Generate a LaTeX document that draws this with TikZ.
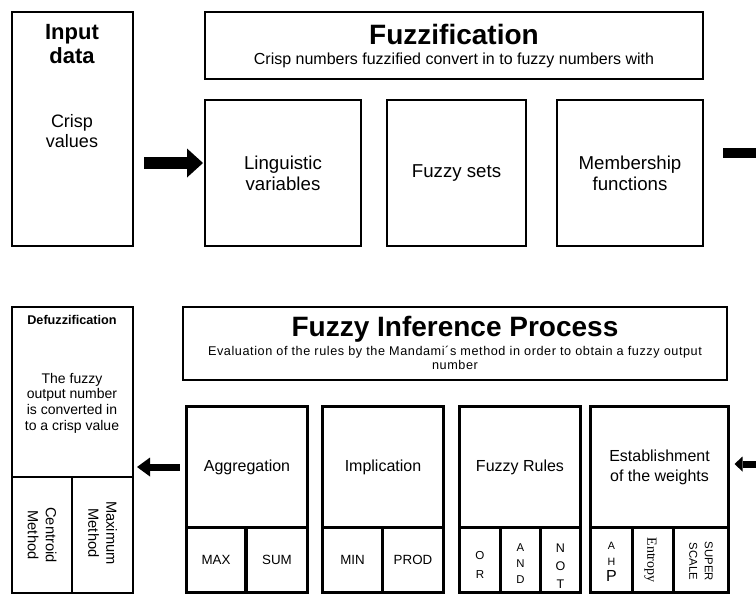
\documentclass[tikz,border=0pt]{standalone}
\usepackage{fontspec}
\setmainfont{Liberation Sans}
\newfontfamily\entropyfont{Liberation Serif}
\usetikzlibrary{arrows.meta, positioning}
\tikzset{
    box/.style={rectangle, draw=black, line width=1.9pt, inner sep=0pt, outer sep=0pt, align=center},
    toplabel/.style={box, minimum height=109.5pt, font=\fontsize{14}{15.75}\selectfont},
    bigbox/.style={box, minimum width=90.75pt, minimum height=90.75pt, font=\fontsize{12}{15}\selectfont},
    subbox/.style={box, minimum height=48.75pt, font=\fontsize{10}{12}\selectfont},
    boxtitle/.style={inner sep=0pt, align=center, font=\fontsize{21}{23}\selectfont\bfseries},
    subtitle/.style={inner sep=0pt, align=center, font=\fontsize{12}{13.5}\selectfont},
    vtext/.style={rotate=-90, inner sep=0pt, align=center},
    letters/.style={inner sep=0pt, align=center},
    fatarrow/.style={draw=black, line width=9pt, -{Triangle[length=12pt, width=21.75pt, line width=0pt]}},
    backarrow/.style={draw=black, line width=5.25pt, -{Triangle[length=9.75pt, width=14.25pt, line width=0pt]}}
}

\begin{document}
\begin{tikzpicture}[x=0.75pt, y=-0.75pt]
    \useasboundingbox (0,0) rectangle (756,594);
    \clip (0,0) rectangle (756,594);

    % Input and fuzzification
    \node [box, minimum width=90.75pt, minimum height=175.5pt] (input) at (72.5,129) {};
    \node [boxtitle, font=\fontsize{16.5}{18}\selectfont\bfseries] (inputtitle) at (72,44) {Input\\data};
    \node [letters, font=\fontsize{13.5}{15}\selectfont] (crisp) at (72,131) {Crisp\\values};
    \node [toplabel, minimum width=117pt] (ling) at (283,173) {Linguistic\\variables};
    \node [toplabel, minimum width=104.25pt, right=19.5pt of ling] (fsets) {Fuzzy sets};
    \node [toplabel, minimum width=109.5pt, right=23.25pt of fsets] (member) {Membership\\functions};
    \node [box, minimum width=373.5pt, minimum height=50.25pt, anchor=south west] (fuzz) at ([yshift=15.75pt]ling.north west) {};
    \node [boxtitle] (fuzztitle) at (454,34) {Fuzzification};
    \node [subtitle] (fuzzsub) at (454,60) {Crisp numbers fuzzified convert in to fuzzy numbers with};

    % Inference process
    \node [box, minimum width=408pt, minimum height=54.75pt] (fip) at (455,343.5) {};
    \node [boxtitle] (fiptitle) at (455,329) {Fuzzy Inference Process};
    \node [subtitle, font=\fontsize{9.5}{10.5}\selectfont\addfontfeature{LetterSpace=4.5}] (fipsub) at (455,358) {Evaluation of the rules by the Mandami´s method in order to obtain a fuzzy output\\number};
    \node [bigbox] (agg) at (247,467) {Aggregation};
    \node [bigbox, right=11.25pt of agg] (impl) {Implication};
    \node [bigbox, right=12pt of impl] (rules) {Fuzzy Rules};
    \node [bigbox, minimum width=103.5pt, right=7.5pt of rules] (weights) {Establishment\\of the weights};

    \node [subbox, minimum width=44.25pt, anchor=north west] (aggmax) at (agg.south west) {MAX};
    \node [subbox, minimum width=45.75pt, anchor=north east] (aggsum) at (agg.south east) {SUM};
    \node [subbox, minimum width=45pt, anchor=north west] (implmin) at (impl.south west) {MIN};
    \node [subbox, minimum width=45.75pt, anchor=north east] (implprod) at (impl.south east) {PROD};
    \node [subbox, minimum width=30.75pt, anchor=north west] (ruleor) at (rules.south west) {};
    \node [subbox, minimum width=30pt, right=0pt of ruleor] (ruleand) {};
    \node [subbox, minimum width=30pt, right=0pt of ruleand] (rulenot) {};
    \node [subbox, minimum width=31.5pt, anchor=north west] (ahp) at (weights.south west) {};
    \node [subbox, minimum width=30.75pt, right=0pt of ahp] (entropy) {};
    \node [subbox, minimum width=41.25pt, right=0pt of entropy] (superscale) {};

    \node [letters, font=\fontsize{8.7}{14}\selectfont] (ortext) at ([yshift=-3.75pt]ruleor) {O\\R};
    \node [letters, font=\fontsize{8.5}{12}\selectfont] (andtext) at ([yshift=-3pt]ruleand) {A\\N\\D};
    \node [letters, font=\fontsize{9.4}{13.5}\selectfont] (nottext) at ([yshift=-4.5pt]rulenot) {N\\O\\T};
    \node [letters, font=\fontsize{8}{12}\selectfont] (ahptext) at ([yshift=-1.5pt]ahp) {A\\H\\{\fontsize{12}{12}\selectfont P}};
    \node [vtext, font=\entropyfont\fontsize{10.5}{12}\selectfont] (entropytext) at ([xshift=-2pt]entropy) {Entropy};
    \node [vtext, font=\fontsize{8.5}{11.5}\selectfont] (supertext) at ([yshift=-1pt]superscale) {SUPER\\SCALE};

    % Defuzzification
    \node [box, minimum width=90.75pt, minimum height=127.5pt] (defuzz) at (72.5,392) {};
    \node [letters, font=\fontsize{9.5}{11}\selectfont\bfseries] (defuzztitle) at (72,320) {Defuzzification};
    \node [letters, font=\fontsize{10.5}{11.8}\selectfont] (defuzztext) at (72,403) {The fuzzy\\output number\\is converted in\\to a crisp value};
    \node [box, minimum width=45pt, minimum height=87pt, anchor=north west] (centroid) at (defuzz.south west) {};
    \node [box, minimum width=45.75pt, minimum height=87pt, anchor=north east] (maxmethod) at (defuzz.south east) {};
    \node [vtext, font=\fontsize{11}{13.5}\selectfont] (centroidtext) at (centroid) {Centroid\\Method};
    \node [vtext, font=\fontsize{11}{13.5}\selectfont] (maxtext) at ([yshift=1.5pt]maxmethod) {Maximum\\Method};

    % Arrows
    \coordinate (lingin) at ([yshift=7.5pt]ling.west);
    \coordinate (fuzzout) at (800,153);
    \coordinate (inferin) at (800,464);
    \draw [fatarrow, shorten <=8.25pt, shorten >=1.5pt] (input.east |- lingin) -- (lingin);
    \draw [fatarrow, line width=7.5pt, shorten <=15pt] (member.east |- fuzzout) -- (fuzzout);
    \draw [backarrow, shorten <=5.25pt, shorten >=3pt] (agg.west) -- (agg.west -| defuzz.east);
    \draw [backarrow, -{Triangle[length=6pt, width=11.25pt, line width=0pt]}, shorten >=4.5pt] (inferin) -- (inferin -| weights.east);
\end{tikzpicture}
\end{document}
